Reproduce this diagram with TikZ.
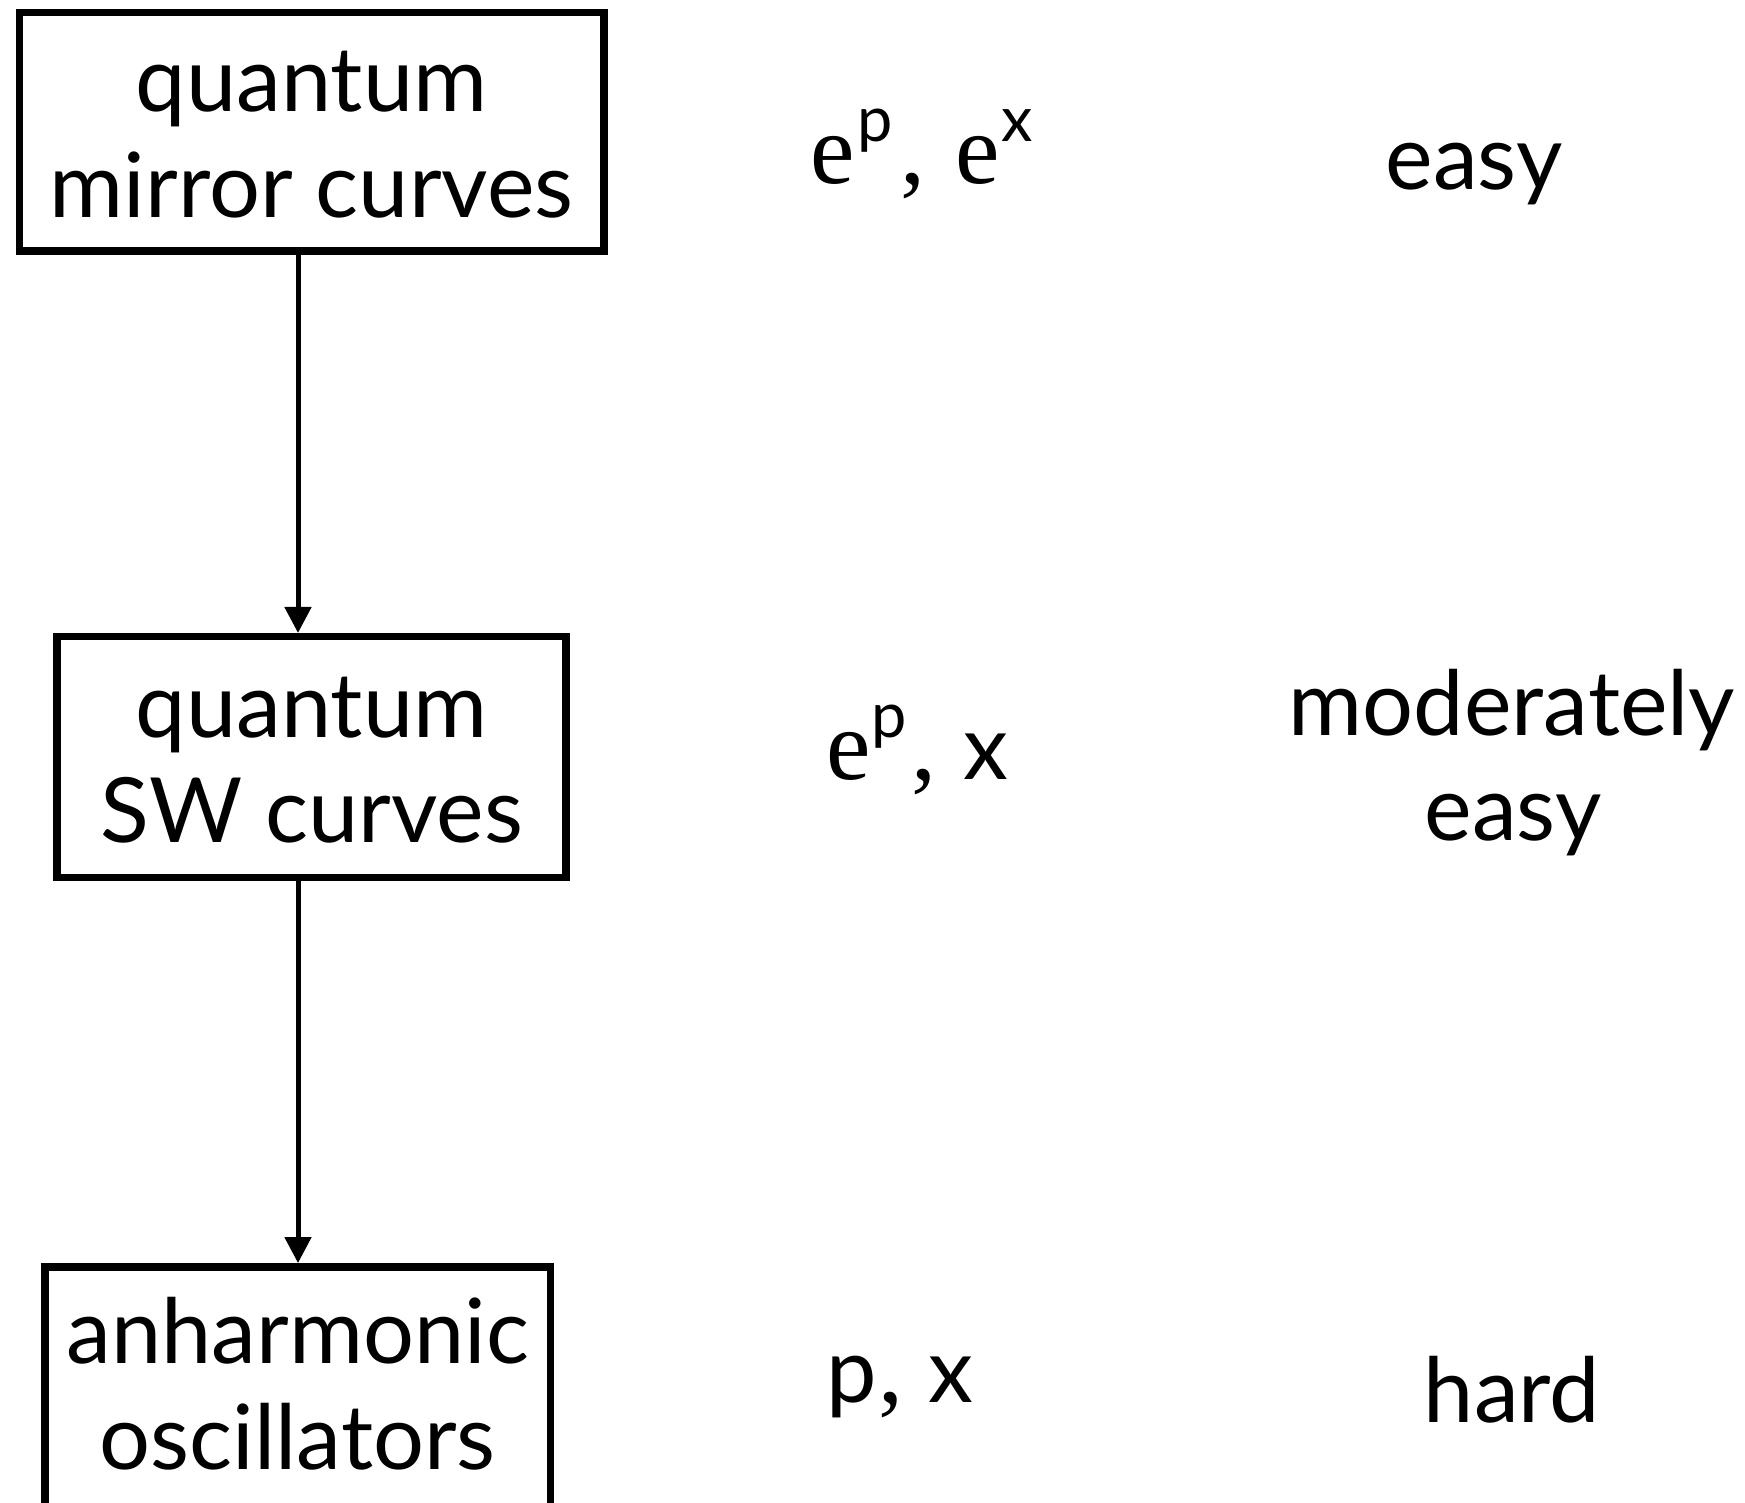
\documentclass[tikz,border=0pt]{standalone}
\usepackage{fontspec}
\setmainfont{Lato}
\newfontfamily\timesfam{Liberation Serif}
\usetikzlibrary{arrows.meta}
\newcommand{\supr}[2]{\raisebox{#1}{\rmfamily\fontsize{63}{63}\selectfont #2}}
\newcommand{\sansx}[1]{{\rmfamily\fontsize{90}{106}\selectfont #1}}
\tikzset{
  boxnode/.style={draw=black, line width=7.5pt, rectangle, inner sep=0pt},
  lbl/.style={anchor=base, inner sep=0pt, font=\fontsize{90}{106}\selectfont},
  mth/.style={anchor=base west, inner sep=0pt, font=\timesfam\fontsize{100}{106}\selectfont},
  arr/.style={draw=black, line width=5pt, -{Triangle[length=26pt,width=26pt]}},
}
\begin{document}
\begin{tikzpicture}[x=1pt,y=-1pt]
\useasboundingbox (0,0) rectangle (1745,1502);
\fill[white] (0,0) rectangle (1745,1502);
% boxes
\node[boxnode, minimum width=584.5pt, minimum height=238.5pt] (b1) at (311.6,131.9) {};
\node[boxnode, minimum width=509pt, minimum height=241pt] (b2) at (311.6,757.2) {};
\node[boxnode, minimum width=505.5pt, minimum height=241pt] (b3) at (297.7,1387.3) {};
% box texts
\node[lbl] (t1a) at (311.6,111) {quantum};
\node[lbl] (t1b) at (311.6,217) {mirror curves};
\node[lbl] (t2a) at (311.6,737) {quantum};
\node[lbl] (t2b) at (311.6,842) {SW curves};
\node[lbl] (t3a) at (297.7,1363) {anharmonic};
\node[lbl] (t3b) at (297.7,1469) {oscillators};
% arrows
\coordinate (a1s) at (298,0 |- b1.south);
\coordinate (a1e) at (298,0 |- b2.north);
\coordinate (a2s) at (298,0 |- b2.south);
\coordinate (a2e) at (298,0 |- b3.north);
\draw[arr] (a1s) -- (a1e);
\draw[arr] (a2s) -- (a2e);
% variables
\node[mth] (m1) at (810,183) {e\hspace{3pt}\supr{42pt}{p}\hspace{8pt},\hspace{30pt}e\hspace{1pt}\supr{42pt}{x}};
\node[mth] (m2) at (826,779) {e\hspace{1pt}\supr{42pt}{p}\hspace{5pt},\hspace{27pt}\sansx{x}};
\node[mth] (m3) at (826,1402) {\sansx{p}\hspace{2pt},\hspace{25pt}\sansx{x}};
% difficulty
\node[lbl] (d1) at (1474,189) {easy};
\node[lbl] (d2a) at (1512,735) {moderately};
\node[lbl] (d2b) at (1513,840) {easy};
\node[lbl] (d3) at (1512,1422) {hard};
\end{tikzpicture}
\end{document}
